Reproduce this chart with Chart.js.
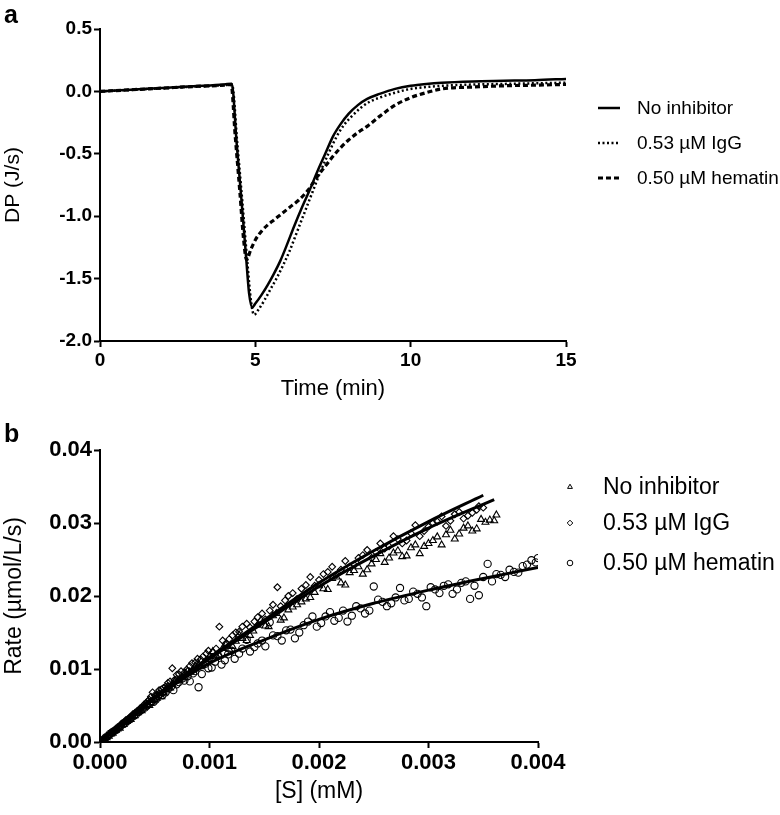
<!DOCTYPE html>
<html>
<head>
<meta charset="utf-8">
<script src="https://cdn.jsdelivr.net/npm/chart.js@4.4.0/dist/chart.umd.min.js"></script>
<style>
  html, body { margin: 0; padding: 0; background: #fff; }
  #wrap { position: relative; width: 780px; height: 815px; }
  canvas { position: absolute; left: 0; }
  #chartA { top: 0; }
  #chartB { top: 410px; }
  .tag { position: absolute; left: 4px; font: bold 25px "Liberation Sans", Arial, sans-serif; line-height: 25px; }
</style>
</head>
<body>
<div id="wrap">
  <canvas id="chartA" width="780" height="410"></canvas>
  <canvas id="chartB" width="780" height="405"></canvas>
  <div class="tag" style="top:2px">a</div>
  <div class="tag" style="top:421px">b</div>
</div>
<script>
// ---- panel a : DP trace ----
var seriesLabels = ['No inhibitor', '0.53 µM IgG', '0.50 µM hematin'];

var tNo  = [0,1,2,3,4,4.24,4.4,4.55,4.7,4.8,4.9,5.0,5.2,5.4,5.6,5.8,6.0,6.25,6.5,6.75,7.0,7.25,7.5,7.75,8.0,8.3,8.6,9.0,9.5,10,10.5,11,12,13,14,15];
var dpNo = [0,0.014,0.028,0.042,0.056,0.062,-0.42,-0.86,-1.32,-1.62,-1.73,-1.70,-1.63,-1.55,-1.46,-1.36,-1.24,-1.08,-0.93,-0.79,-0.64,-0.50,-0.36,-0.26,-0.18,-0.11,-0.06,-0.02,0.02,0.045,0.06,0.07,0.08,0.085,0.09,0.10];

var tIgG  = [0,1,2,3,4,4.25,4.42,4.58,4.74,4.86,4.96,5.1,5.3,5.5,5.7,5.9,6.1,6.35,6.6,6.85,7.1,7.35,7.6,7.85,8.1,8.4,8.7,9.0,9.5,10,10.5,11,12,13,14,15];
var dpIgG = [0,0.012,0.025,0.038,0.05,0.055,-0.42,-0.88,-1.36,-1.68,-1.79,-1.75,-1.67,-1.58,-1.49,-1.39,-1.28,-1.12,-0.96,-0.80,-0.64,-0.50,-0.37,-0.27,-0.20,-0.13,-0.08,-0.05,-0.01,0.02,0.035,0.045,0.055,0.06,0.065,0.07];

var tHem  = [0,1,2,3,4,4.22,4.35,4.5,4.62,4.72,4.85,5.0,5.2,5.4,5.6,5.85,6.1,6.4,6.7,7.0,7.25,7.5,7.75,8.0,8.3,8.6,9.0,9.5,10,10.5,11,12,13,14,15];
var dpHem = [0,0.013,0.026,0.039,0.05,0.055,-0.35,-0.8,-1.18,-1.35,-1.27,-1.19,-1.12,-1.07,-1.03,-0.98,-0.93,-0.87,-0.79,-0.68,-0.60,-0.52,-0.45,-0.39,-0.33,-0.28,-0.20,-0.11,-0.05,-0.01,0.02,0.035,0.045,0.05,0.056];

var timeTicks = [0, 5, 10, 15];
var dpTicks = [-2.0, -1.5, -1.0, -0.5, 0.0, 0.5];

// ---- panel b : rate vs [S] ----
var sNoInh = [0.00003,0.00006,0.0001,0.00013,0.00016,0.0002,0.00023,0.00026,0.0003,0.00033,
  0.00036,0.0004,0.00043,0.00046,0.0005,0.00054,0.00058,0.00062,0.00066,0.0007,
  0.00075,0.0008,0.00085,0.0009,0.00095,0.001,0.00106,0.00112,0.00118,0.00124,
  0.0013,0.00137,0.00144,0.00151,0.00158,0.00165,0.00172,0.0018,0.00188,0.00196,
  0.00204,0.00212,0.0022,0.00228,0.00236,0.00244,0.00252,0.0026,0.00268,0.00276,
  0.00284,0.00292,0.003,0.00308,0.00316,0.00324,0.00332,0.0034,0.00348,0.00356,0.00362];
var rNoInh = [0.0003,0.0006,0.0011,0.0015,0.0018,0.0023,0.0027,0.0030,0.0035,0.0039,
  0.0043,0.0047,0.0051,0.0054,0.0058,0.0066,0.0068,0.0076,0.0079,0.0086,
  0.0088,0.0097,0.0099,0.0107,0.0108,0.0117,0.0119,0.0128,0.0127,0.0138,
  0.0142,0.0146,0.0160,0.0159,0.0173,0.0167,0.0181,0.0188,0.0196,0.0205,
  0.0210,0.0224,0.0218,0.0232,0.0240,0.0236,0.0250,0.0246,0.0259,0.0254,
  0.0266,0.0258,0.0272,0.0281,0.0284,0.0278,0.0293,0.0289,0.0305,0.0304,0.0311];
var sNoInh2 = [0.000045,0.00008,0.000115,0.000145,0.00018,0.000215,0.000245,0.00028,0.000315,0.000345,
  0.00038,0.000415,0.00045,0.00048,0.00052,0.00056,0.0006,0.00064,0.00068,0.00072,
  0.00078,0.00082,0.00087,0.00092,0.00098,
  0.00103,0.00109,0.00115,0.00121,0.00127,0.00134,0.0014,0.00147,0.00154,0.00161,
  0.00168,0.00176,0.00184,0.00192,0.002,0.00208,0.00216,0.00224,0.00232,0.0024,
  0.00248,0.00256,0.00264,0.00272,0.0028,0.00288,0.00296,0.00304,0.00312,0.0032,
  0.00328,0.00336,0.00344,0.00352,0.0036];
var rNoInh2 = [0.0004,0.0008,0.0012,0.0016,0.0019,0.0024,0.0028,0.0031,0.0036,0.0040,
  0.0043,0.0049,0.0050,0.0057,0.0060,0.0062,0.0072,0.0074,0.0083,0.0084,
  0.0094,0.0096,0.0104,0.0103,0.0113,
  0.0124,0.0118,0.0133,0.0131,0.0147,0.0139,0.0152,0.0167,0.0158,0.0176,
  0.0170,0.0185,0.0192,0.0198,0.0214,0.0209,0.0226,0.0215,0.0235,0.0230,
  0.0244,0.0258,0.0252,0.0262,0.0255,0.0270,0.0268,0.0276,0.0270,0.0290,
  0.0285,0.0296,0.0292,0.0301,0.0303];

var sIgG = [0.00002,0.00005,0.00008,0.00012,0.00015,0.00018,0.00022,0.00025,0.00028,0.00032,
  0.00035,0.00038,0.00042,0.00045,0.00048,0.00052,0.00056,0.0006,0.00064,0.00068,
  0.00072,0.00077,0.00082,0.00087,0.00092,0.00097,0.00103,0.00109,0.00115,0.00121,
  0.00127,0.00134,0.00141,0.00148,0.00155,0.00162,0.00169,0.00176,0.00184,0.00192,
  0.002,0.00208,0.00216,0.00224,0.00232,0.0024,0.00248,0.00256,0.00264,0.00272,
  0.0028,0.00288,0.00296,0.00304,0.00312,0.0032,0.00328,0.00336,0.00344,0.0035];
var rIgG = [0.0002,0.0005,0.0009,0.0014,0.0018,0.0021,0.0027,0.0031,0.0034,0.0040,
  0.0043,0.0047,0.0053,0.0058,0.0068,0.0065,0.0072,0.0076,0.0083,0.0085,
  0.0093,0.0095,0.0104,0.0109,0.0113,0.0121,0.0123,0.0158,0.0135,0.0146,
  0.0151,0.0162,0.0165,0.0176,0.0180,0.0212,0.0194,0.0204,0.0210,0.0226,
  0.0222,0.0233,0.0229,0.0248,0.0243,0.0256,0.0252,0.0272,0.0268,0.0278,
  0.0276,0.0297,0.0289,0.0300,0.0309,0.0303,0.0315,0.0310,0.0318,0.0321];
var sIgG2 = [0.000035,0.000065,0.0001,0.000135,0.000165,0.0002,0.000235,0.000265,0.0003,0.000335,
  0.000365,0.0004,0.000435,0.000465,0.0005,0.00054,0.00058,0.00062,0.00066,0.0007,
  0.00074,0.00079,0.00084,0.00089,0.00094,0.00099,
  0.00106,0.00112,0.00118,0.00124,0.0013,0.00137,0.00144,0.00151,0.00158,0.00165,
  0.00172,0.0018,0.00188,0.00196,0.00204,0.00212,0.0022,0.00228,0.00236,0.00244,
  0.00252,0.0026,0.00268,0.00276,0.00284,0.00292,0.003,0.00308,0.00316,0.00324,
  0.00332,0.0034,0.00346];
var rIgG2 = [0.0004,0.0008,0.0012,0.0017,0.0020,0.0025,0.0030,0.0033,0.0038,0.0042,
  0.0046,0.0051,0.0056,0.0062,0.0064,0.0071,0.0074,0.0081,0.0101,0.0092,
  0.0097,0.0099,0.0108,0.0114,0.0117,0.0125,
  0.0128,0.0139,0.0141,0.0150,0.0158,0.0157,0.0171,0.0168,0.0188,0.0186,
  0.0200,0.0196,0.0215,0.0214,0.0230,0.0240,0.0236,0.0240,0.0252,0.0263,
  0.0260,0.0265,0.0282,0.0272,0.0286,0.0282,0.0295,0.0302,0.0296,0.0312,
  0.0306,0.0314,0.0323];

var sHem = [0.00003,0.00007,0.00011,0.00015,0.00019,0.00023,0.00027,0.00031,0.00035,0.00039,
  0.00043,0.00047,0.00051,0.00055,0.0006,0.00065,0.0007,0.00075,0.0008,0.00085,
  0.0009,0.00096,0.00102,0.00108,0.00114,0.0012,0.00127,0.00134,0.00141,0.00148,
  0.00155,0.00162,0.0017,0.00178,0.00186,0.00194,0.00202,0.0021,0.00218,0.00226,
  0.00234,0.00242,0.0025,0.00258,0.00266,0.00274,0.00282,0.0029,0.00298,0.00306,
  0.00314,0.00322,0.0033,0.00338,0.00346,0.00354,0.00362,0.0037,0.00378,0.00386,0.00394,0.004];
var rHem = [0.0003,0.0008,0.0013,0.0017,0.0022,0.0026,0.0031,0.0036,0.0041,0.0046,
  0.0050,0.0055,0.0058,0.0066,0.0068,0.0076,0.0079,0.0087,0.0090,0.0094,
  0.0075,0.0107,0.0102,0.0118,0.0112,0.0125,0.0121,0.0140,0.0130,0.0139,
  0.0164,0.0145,0.0153,0.0142,0.0160,0.0172,0.0163,0.0178,0.0170,0.0165,
  0.0186,0.0176,0.0213,0.0192,0.0190,0.0211,0.0196,0.0203,0.0186,0.0209,
  0.0214,0.0203,0.0218,0.0196,0.0201,0.0244,0.0230,0.0226,0.0233,0.0241,0.0249,0.0252];
var sHem2 = [0.00005,0.00009,0.00013,0.00017,0.00021,0.00025,0.00029,0.00033,0.00037,0.00041,
  0.00045,0.00049,0.00053,0.00057,0.00062,0.00067,0.00072,0.00077,0.00082,0.00087,
  0.00093,0.00099,
  0.00105,0.00111,0.00117,0.00123,0.0013,0.00137,0.00144,0.00151,0.00158,0.00166,
  0.00174,0.00182,0.0019,0.00198,0.00206,0.00214,0.00222,0.0023,0.00238,0.00246,
  0.00254,0.00262,0.0027,0.00278,0.00286,0.00294,0.00302,0.0031,0.00318,0.00326,
  0.00334,0.00342,0.0035,0.00358,0.00366,0.00374,0.00382,0.0039,0.00398];
var rHem2 = [0.0006,0.0011,0.0015,0.0020,0.0025,0.0029,0.0034,0.0038,0.0043,0.0047,
  0.0053,0.0055,0.0063,0.0064,0.0072,0.0071,0.0082,0.0084,0.0083,0.0097,
  0.0093,0.0101,
  0.0110,0.0106,0.0120,0.0114,0.0128,0.0124,0.0135,0.0131,0.0146,0.0139,
  0.0154,0.0150,0.0165,0.0158,0.0172,0.0166,0.0180,0.0173,0.0183,0.0180,
  0.0195,0.0186,0.0198,0.0194,0.0206,0.0198,0.0212,0.0204,0.0216,0.0209,
  0.0220,0.0214,0.0226,0.0220,0.0229,0.0236,0.0232,0.0243,0.0246];

// fitted curves
var fitSNoInh = [0,0.0005,0.001,0.0015,0.002,0.0025,0.003,0.0036];
var fitRNoInh = [0,0.0061,0.0114,0.0164,0.0213,0.0255,0.0293,0.0332];
var fitSIgG = [0,0.0005,0.001,0.0015,0.002,0.0025,0.003,0.0035];
var fitRIgG = [0,0.0062,0.0116,0.0167,0.0218,0.0262,0.0302,0.0338];
var fitSHem = [0,0.0005,0.001,0.0015,0.002,0.0025,0.003,0.0035,0.004];
var fitRHem = [0,0.0060,0.0108,0.0140,0.0168,0.0190,0.0208,0.0224,0.0239];

var sTicks = [0, 0.001, 0.002, 0.003, 0.004];
var rateTicks = [0, 0.01, 0.02, 0.03, 0.04];

var FONT = '"Liberation Sans", Arial, sans-serif';

function pts(xs, ys) {
  return xs.map(function (x, i) { return { x: x, y: ys[i] }; });
}

function axis(min, max, tickVals, decimals, size, title, titleSize, titlePad) {
  return {
    type: 'linear', min: min, max: max,
    border: { display: true, color: '#000', width: 2 },
    grid: { display: true, drawOnChartArea: false, drawTicks: true, tickLength: 6, tickWidth: 2, tickColor: '#000' },
    afterBuildTicks: function (s) { s.ticks = tickVals.map(function (v) { return { value: v }; }); },
    ticks: {
      color: '#000', padding: 2, autoSkip: false, maxRotation: 0,
      font: { family: FONT, size: size, weight: 'bold' },
      callback: function (v) { return Number(v).toFixed(decimals); }
    },
    title: { display: true, text: title, color: '#000', padding: titlePad, font: { family: FONT, size: titleSize } }
  };
}

// legend drawn at the right side of each panel
var sideLegend = {
  id: 'sideLegend',
  afterDraw: function (chart, args, o) {
    var ctx = chart.ctx;
    ctx.save();
    o.items.forEach(function (it, i) {
      var y = o.y[i];
      ctx.strokeStyle = '#000';
      if (it.style) {
        ctx.fillStyle = 'rgba(0,0,0,0)';
        Chart.helpers.drawPoint(ctx, { pointStyle: it.style, radius: it.radius, borderWidth: 1, rotation: 0 }, o.x, y);
      } else {
        ctx.lineWidth = it.width;
        ctx.setLineDash(it.dash);
        ctx.beginPath();
        ctx.moveTo(o.x, y);
        ctx.lineTo(o.x + o.len, y);
        ctx.stroke();
        ctx.setLineDash([]);
      }
      ctx.fillStyle = '#000';
      ctx.font = o.font;
      ctx.textBaseline = 'middle';
      ctx.fillText(it.label, o.textX, y + 1);
    });
    ctx.restore();
  }
};

var lineStyles = [
  { dash: [], width: 2.5 },
  { dash: [2, 2.5], width: 2.5 },
  { dash: [5, 3], width: 3.2 }
];

new Chart(document.getElementById('chartA'), {
  type: 'scatter',
  data: {
    datasets: [
      { label: seriesLabels[0], data: pts(tNo, dpNo) },
      { label: seriesLabels[1], data: pts(tIgG, dpIgG) },
      { label: seriesLabels[2], data: pts(tHem, dpHem) }
    ].map(function (d, i) {
      d.showLine = true;
      d.borderColor = '#000';
      d.borderWidth = lineStyles[i].width;
      d.borderDash = lineStyles[i].dash;
      d.pointRadius = 0;
      d.cubicInterpolationMode = 'monotone';
      d.fill = false;
      return d;
    })
  },
  plugins: [sideLegend],
  options: {
    responsive: false, animation: false,
    layout: { padding: { top: 29, right: 214, left: 0, bottom: 0 } },
    plugins: {
      legend: { display: false }, tooltip: { enabled: false },
      sideLegend: {
        x: 598, len: 22, textX: 637, y: [108, 143, 178],
        font: '19px ' + FONT,
        items: seriesLabels.map(function (l, i) { return { label: l, dash: lineStyles[i].dash, width: lineStyles[i].width }; })
      }
    },
    scales: {
      x: Object.assign(axis(0, 15, timeTicks, 0, 19, 'Time (min)', 22, { top: 2, bottom: 8 }),
        { afterFit: function (s) { s.height = 69; } }),
      y: Object.assign(axis(-2, 0.5, dpTicks, 1, 19, 'DP (J/s)', 21, { top: 1, bottom: 2 }),
        { afterFit: function (s) { s.width = 100; } })
    }
  }
});

var markerStyles = [
  { style: 'triangle', radius: 4 },
  { style: 'rectRot', radius: 3.4 },
  { style: 'circle', radius: 3.6 }
];

function scatterSet(label, xs, ys, i) {
  return {
    label: label, data: pts(xs, ys), showLine: false, order: 2,
    pointStyle: markerStyles[i].style, pointRadius: markerStyles[i].radius,
    pointBorderColor: '#000', pointBackgroundColor: 'rgba(0,0,0,0)', pointBorderWidth: 1.1
  };
}
function fitSet(xs, ys) {
  return {
    label: 'fit', data: pts(xs, ys), showLine: true, order: 1,
    borderColor: '#000', borderWidth: 3, pointRadius: 0,
    cubicInterpolationMode: 'monotone', fill: false
  };
}

new Chart(document.getElementById('chartB'), {
  type: 'scatter',
  data: {
    datasets: [
      scatterSet(seriesLabels[0], sNoInh.concat(sNoInh2), rNoInh.concat(rNoInh2), 0),
      scatterSet(seriesLabels[1], sIgG.concat(sIgG2), rIgG.concat(rIgG2), 1),
      scatterSet(seriesLabels[2], sHem.concat(sHem2), rHem.concat(rHem2), 2),
      fitSet(fitSNoInh, fitRNoInh),
      fitSet(fitSIgG, fitRIgG),
      fitSet(fitSHem, fitRHem)
    ]
  },
  plugins: [sideLegend],
  options: {
    responsive: false, animation: false,
    layout: { padding: { top: 40, right: 242, left: 0, bottom: 0 } },
    plugins: {
      legend: { display: false }, tooltip: { enabled: false },
      sideLegend: {
        x: 570, len: 0, textX: 603, y: [77, 113, 153],
        font: '23px ' + FONT,
        items: seriesLabels.map(function (l, i) { return { label: l, style: markerStyles[i].style, radius: 2.8 }; })
      }
    },
    scales: {
      x: Object.assign(axis(0, 0.004, sTicks, 3, 22, '[S] (mM)', 23, { top: 2, bottom: 10 }),
        { afterFit: function (s) { s.height = 73; } }),
      y: Object.assign(axis(0, 0.04, rateTicks, 2, 22, 'Rate (µmol/L/s)', 23, { top: 1, bottom: 2 }),
        { afterFit: function (s) { s.width = 100; } })
    }
  }
});
</script>
</body>
</html>
